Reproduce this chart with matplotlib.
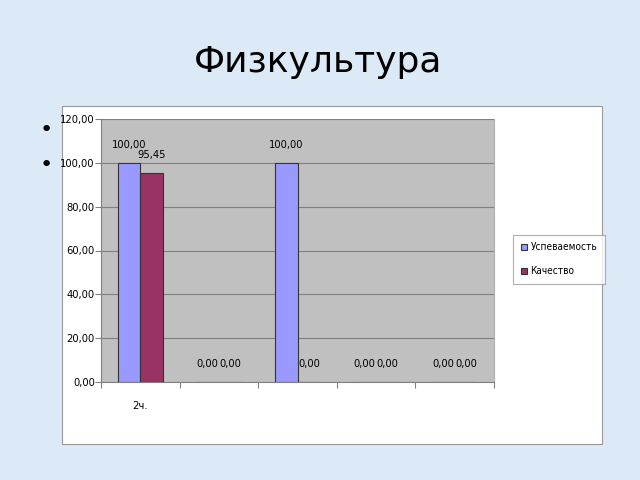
import matplotlib.pyplot as plt
from matplotlib.font_manager import FontProperties
import numpy as np

categories = ['2ч.', '', '', '', '']
uspevaemost = [100.0, 0.0, 100.0, 0.0, 0.0]
kachestvo = [95.45, 0.0, 0.0, 0.0, 0.0]
series_names = ['Успеваемость', 'Качество']
title = 'Физкультура'

small = FontProperties(family='DejaVu Sans', stretch='condensed', size=8)
legend_font = FontProperties(family='DejaVu Sans', stretch='condensed', size=7.2)

fig = plt.figure(figsize=(6.4, 4.8), dpi=100)
fig.patch.set_facecolor('#dce9f6')

# white chart frame
frame = plt.Rectangle((62 / 640, 1 - 444 / 480), 540 / 640, 338 / 480,
                      transform=fig.transFigure, facecolor='white',
                      edgecolor='#9a9a9a', linewidth=0.8, zorder=-5)
fig.patches.append(frame)

fig.text(318 / 640, 1 - 62 / 480, title, ha='center', va='center',
         fontsize=26, family='DejaVu Sans', color='black')
for y in (130, 165):
    fig.text(46 / 640, 1 - y / 480, '•', ha='center', va='center',
             fontsize=16, color='black')

ax = fig.add_axes([101 / 640, 1 - 382 / 480, 393 / 640, 263 / 480])
ax.set_facecolor('#c0c0c0')

x = np.arange(len(categories))
w = 0.29
b1 = ax.bar(x - w / 2, uspevaemost, w, color='#9999ff', edgecolor='#333333',
            linewidth=0.8, label=series_names[0], zorder=3)
b2 = ax.bar(x + w / 2, kachestvo, w, color='#993366', edgecolor='#333333',
            linewidth=0.8, label=series_names[1], zorder=3)

for bars in (b1, b2):
    for r in bars:
        v = r.get_height()
        ax.annotate(f'{v:.2f}'.replace('.', ','),
                    (r.get_x() + r.get_width() / 2, v),
                    xytext=(0, 13), textcoords='offset points',
                    ha='center', va='center', fontproperties=small)

ax.set_xlim(-0.5, len(categories) - 0.5)
ax.set_ylim(0, 120)
ax.set_yticks(np.arange(0, 121, 20))
ax.set_yticklabels([f'{v:.2f}'.replace('.', ',') for v in np.arange(0, 121, 20)],
                   fontproperties=small)
ax.yaxis.grid(True, color='#808080', linewidth=0.8, zorder=1)
ax.set_axisbelow(True)

ax.set_xticks(np.arange(-0.5, len(categories)), minor=False)
ax.set_xticklabels([])
ax.set_xticks(x, minor=True)
ax.set_xticklabels(categories, minor=True, fontproperties=small)
ax.tick_params(axis='x', which='minor', length=0, pad=14)
ax.tick_params(axis='x', which='major', length=4, color='#808080', direction='out')
ax.tick_params(axis='y', length=4, color='#808080', direction='out', pad=0.5)

ax.spines['top'].set_visible(False)
ax.spines['right'].set_color('#b0b0b0')
ax.spines['left'].set_color('#808080')
ax.spines['bottom'].set_color('#808080')

leg = fig.legend(loc='upper left', bbox_to_anchor=(513 / 640, 1 - 235 / 480),
                 prop=legend_font, frameon=True, fancybox=False, borderaxespad=0,
                 edgecolor='#9a9a9a', handlelength=0.6, handleheight=0.6,
                 handletextpad=0.4, labelspacing=1.4, borderpad=0.75)
leg.get_frame().set_linewidth(0.8)

fig.savefig('out.png', dpi=100, facecolor=fig.get_facecolor())
